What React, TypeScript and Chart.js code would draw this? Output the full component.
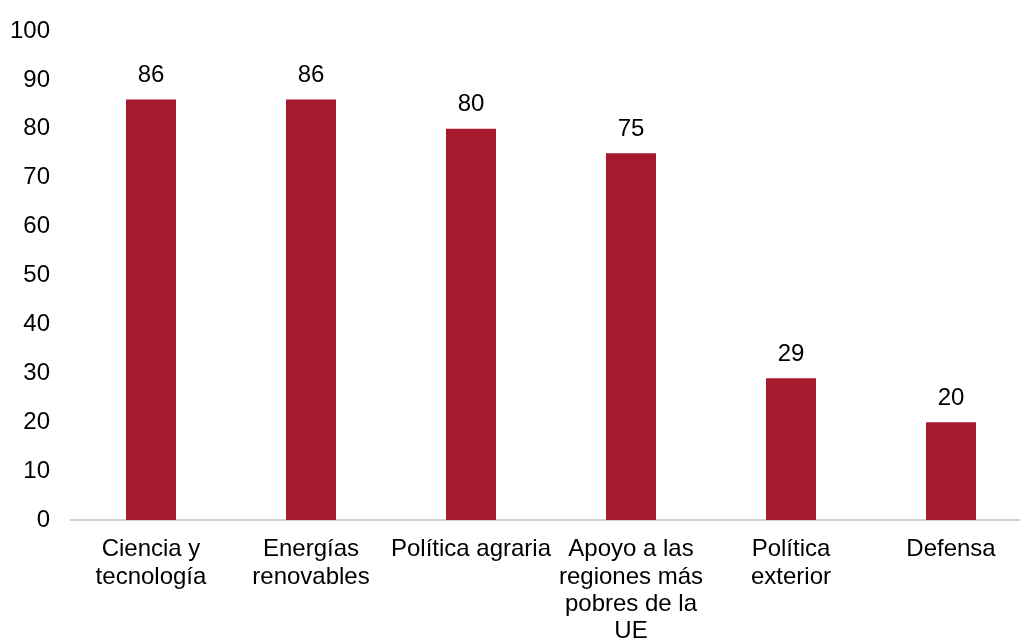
import React, { useEffect, useRef } from "react";
import { Chart, registerables } from "chart.js";

Chart.register(...registerables);

const categories: (string | string[])[] = [
  ["Ciencia y", "tecnología"],
  ["Energías", "renovables"],
  "Política agraria",
  ["Apoyo a las", "regiones más", "pobres de la", "UE"],
  ["Política", "exterior"],
  "Defensa",
];
const values: number[] = [86, 86, 80, 75, 29, 20];
const yTicks: number[] = [0, 10, 20, 30, 40, 50, 60, 70, 80, 90, 100];

const FONT = "'Liberation Sans', Arial, sans-serif";
const BAR_COLOR = "#A6192E";
const FS = 24;

const dataLabels = {
  id: "dataLabels",
  afterDatasetsDraw(chart: any) {
    const ctx = chart.ctx;
    const meta = chart.getDatasetMeta(0);
    ctx.save();
    ctx.font = `${FS}px ${FONT}`;
    ctx.fillStyle = "#000";
    ctx.textAlign = "center";
    ctx.textBaseline = "middle";
    meta.data.forEach((bar: any, i: number) => {
      ctx.fillText(String(values[i]), bar.x, bar.y - 24);
    });
    ctx.restore();
  },
};

export default function App() {
  const ref = useRef<HTMLCanvasElement>(null);
  useEffect(() => {
    if (!ref.current) return;
    const chart = new Chart(ref.current, {
      type: "bar",
      data: {
        labels: categories,
        datasets: [
          {
            data: values,
            backgroundColor: BAR_COLOR,
            borderWidth: 0,
            categoryPercentage: 1,
            barPercentage: 0.3125,
          },
        ],
      },
      options: {
        responsive: false,
        animation: false,
        devicePixelRatio: 1,
        layout: { padding: { top: 0, right: 0, left: 0, bottom: 0 } },
        plugins: {
          legend: { display: false },
          tooltip: { enabled: false },
        },
        scales: {
          x: {
            grid: { display: false, drawTicks: false },
            border: { display: true, color: "#d0d0d0", width: 2 },
            ticks: {
              color: "#000",
              font: { family: FONT, size: FS, lineHeight: 1.14 },
              padding: 16,
              maxRotation: 0,
              autoSkip: false,
            },
            afterFit: (s: any) => {
              s.height = 119;
            },
          },
          y: {
            min: 0,
            max: 100,
            afterBuildTicks: (s: any) => {
              s.ticks = yTicks.map((v) => ({ value: v }));
            },
            grid: { display: false, drawTicks: false },
            border: { display: false },
            ticks: {
              color: "#000",
              font: { family: FONT, size: FS, lineHeight: 0.833 },
              padding: 21,
            },
            afterFit: (s: any) => {
              s.width = 71;
            },
          },
        },
      },
      plugins: [dataLabels],
    });
    return () => chart.destroy();
  }, []);
  return (
    <div
      style={{
        position: "absolute",
        left: 0,
        top: 0,
        width: 1020,
        height: 639,
        overflow: "hidden",
        background: "#fff",
      }}
    >
      <canvas ref={ref} width={1031} height={639} style={{ display: "block" }} />
    </div>
  );
}
